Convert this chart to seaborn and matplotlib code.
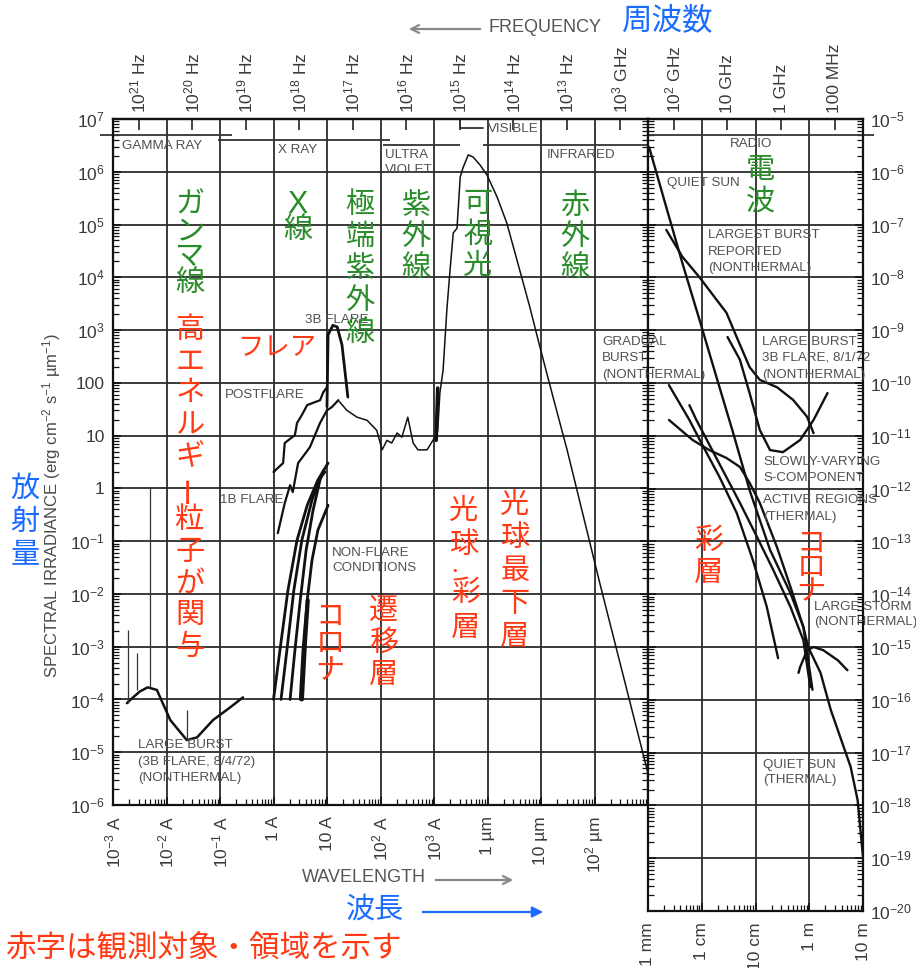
import numpy as np
import pandas as pd
import matplotlib
matplotlib.use("Agg")
import matplotlib.pyplot as plt
import seaborn as sns
from matplotlib.ticker import LogLocator, NullLocator

# ---------------- data (log10 values) ----------------
# Left panel: wavelength in Angstrom, irradiance in erg cm^-2 s^-1 um^-1
qs_lwl = [1.21, 1.37, 1.56, 1.75, 1.93, 2.03, 2.12, 2.21, 2.31, 2.40, 2.51, 2.61, 2.70,
          2.87, 2.98, 3.06, 3.07, 3.11, 3.17, 3.24, 3.30, 3.36, 3.43, 3.49, 3.54, 3.64,
          3.73, 3.86, 3.99, 4.18, 4.36, 4.55, 4.79, 4.98, 5.22, 5.49, 6.10, 7.00]
qs_lirr = [1.67, 1.48, 1.35, 1.29, 1.10, 0.73, 0.91, 0.86, 1.05, 0.97, 1.35, 0.86, 0.73,
           0.73, 0.91, 1.05, 1.10, 1.81, 2.24, 3.38, 4.14, 4.84, 4.93, 5.90, 6.07, 6.32,
           6.28, 6.13, 5.94, 5.52, 5.03, 4.33, 3.44, 2.68, 1.75, 0.72, -1.80, -5.40]

blob_lwl = [3.04, 3.07]
blob_lirr = [0.91, 1.90]

fl3b_lwl = [1.00, 1.02, 1.11, 1.19, 1.28, 1.39]
fl3b_lirr = [1.55, 2.91, 3.09, 3.06, 2.72, 1.73]

post_lwl = [0.00, 0.18, 0.21, 0.40, 0.44, 0.53, 0.63, 0.87, 0.93, 1.00]
post_lirr = [0.31, 0.48, 0.86, 1.01, 1.24, 1.39, 1.58, 1.67, 1.82, 1.92]

fl1b_lwl = [0.08, 0.21, 0.31, 0.36, 0.46, 0.68, 0.87, 1.00, 1.09, 1.21]
fl1b_lirr = [-0.85, -0.28, 0.06, -0.07, 0.48, 0.78, 1.24, 1.48, 1.54, 1.67]

nf1_lwl = [0.00, 0.12, 0.27, 0.44, 0.63, 0.83, 1.02]
nf1_lirr = [-4.00, -3.07, -1.93, -0.98, -0.32, 0.16, 0.48]
nf2_lwl = [0.14, 0.25, 0.38, 0.53, 0.72, 0.87, 0.96]
nf2_lirr = [-4.00, -3.07, -1.93, -0.98, -0.22, 0.19, 0.31]
nf3_lwl = [0.31, 0.40, 0.50, 0.61, 0.74, 0.87, 0.94]
nf3_lirr = [-4.00, -3.07, -2.12, -1.17, -0.41, 0.16, 0.35]
nf4_lwl = [0.50, 0.55, 0.63, 0.72, 0.83, 1.02]
nf4_lirr = [-4.00, -3.07, -2.12, -1.36, -0.79, -0.32]
nf5_lwl = [0.53, 0.59, 0.64]
nf5_lirr = [-4.00, -2.88, -2.12]

gam_lwl = [-2.74, -2.68, -2.50, -2.35, -2.18, -1.93, -1.62, -1.43, -1.13, -0.81, -0.57]
gam_lirr = [-4.07, -4.01, -3.85, -3.77, -3.82, -4.39, -4.77, -4.72, -4.39, -4.15, -3.96]

gline_lwl = [-2.72, -2.55, -2.31, -1.62]
gline_top = [-2.69, -3.12, 0.02, -4.20]
gline_bot = [-4.07, -3.82, -3.77, -4.77]

# Right panel: wavelength in metres, irradiance (log10)
qsr_lwl = [-2.98, -2.66, -2.36, -2.04, -1.72, -1.42, -1.11, -0.73, -0.35, -0.11, -0.02,
           0.21, 0.40, 0.77, 0.90, 1.00]
qsr_lirr = [-5.53, -6.67, -7.73, -8.81, -9.91, -10.93, -12.03, -13.16, -13.98, -14.62,
            -15.00, -15.49, -16.19, -17.27, -17.90, -18.98]

lb_lwl = [-2.66, -2.36, -2.04, -1.72, -1.54, -1.35, -1.11, -0.92, -0.60, -0.30, -0.04, 0.08]
lb_lirr = [-7.10, -7.61, -8.00, -8.43, -8.67, -9.13, -9.70, -9.94, -10.08, -10.32, -10.64, -10.95]

b3_lwl = [-1.52, -1.29, -1.11, -0.92, -0.73, -0.49, -0.17, 0.08, 0.34]
b3_lirr = [-9.13, -9.56, -10.19, -10.89, -11.27, -11.31, -11.08, -10.70, -10.19]

gb_lwl = [-2.61, -2.23, -1.99, -1.67, -1.35, -1.05, -0.79, -0.58]
gb_lirr = [-10.04, -10.70, -11.17, -11.78, -12.46, -13.35, -14.24, -15.21]

sc_lwl = [-2.61, -2.17, -1.86, -1.54, -1.29, -1.11, -0.92, -0.60, -0.35, -0.11, 0.06]
sc_lirr = [-10.70, -11.08, -11.27, -11.42, -11.59, -11.89, -12.27, -13.11, -13.86, -14.62, -15.81]

ar_lwl = [-2.23, -2.10, -1.61, -1.29, -0.97, -0.67, -0.35, -0.11, 0.02]
ar_lirr = [-10.42, -10.70, -11.65, -12.27, -12.92, -13.54, -14.24, -14.87, -15.76]

ls_lwl = [-0.20, -0.17, -0.04, 0.08, 0.26, 0.53, 0.71]
ls_lirr = [-15.49, -15.38, -15.06, -15.00, -15.06, -15.25, -15.44]

# spectral band bars at the top (log10 Angstrom, log10 irradiance)
band_lo = [-3.24, -1.04, 2.05, 3.92]
band_hi = [-0.78, 2.18, 3.49, 7.00]
band_lev = [6.70, 6.60, 6.51, 6.51]
vis_lwl = [3.49, 3.49, 3.92]
vis_lev = [7.00, 6.83, 6.83]
radio_lwl = [-3.00, 1.20]
radio_lev = -5.30

# tick labels
left_freqs = [1e21, 1e20, 1e19, 1e18, 1e17, 1e16, 1e15, 1e14, 1e13, 1e12]
left_freq_labels = ["10$^{21}$ Hz", "10$^{20}$ Hz", "10$^{19}$ Hz", "10$^{18}$ Hz",
                    "10$^{17}$ Hz", "10$^{16}$ Hz", "10$^{15}$ Hz", "10$^{14}$ Hz",
                    "10$^{13}$ Hz", "10$^{3}$ GHz"]
right_freqs = [1e11, 1e10, 1e9, 1e8]
right_freq_labels = ["10$^{2}$ GHz", "10 GHz", "1 GHz", "100 MHz"]
left_wl_labels = ["10$^{-3}$ A", "10$^{-2}$ A", "10$^{-1}$ A", "1 A", "10 A", "10$^{2}$ A",
                  "10$^{3}$ A", "1 µm", "10 µm", "10$^{2}$ µm", ""]
right_wl_labels = ["1 mm", "1 cm", "10 cm", "1 m", "10 m"]
left_y_labels = ["10$^{-6}$", "10$^{-5}$", "10$^{-4}$", "10$^{-3}$", "10$^{-2}$", "10$^{-1}$",
                 "1", "10", "100", "10$^{3}$", "10$^{4}$", "10$^{5}$", "10$^{6}$", "10$^{7}$"]
right_y_labels = ["10$^{-%d}$" % k for k in range(20, 4, -1)]

C = 2.998e8

# ---------------- style ----------------
sns.set_theme(style="white")
plt.rcParams["font.family"] = ["Liberation Sans", "Noto Sans CJK JP", "DejaVu Sans"]
plt.rcParams["mathtext.fontset"] = "custom"
plt.rcParams["mathtext.rm"] = "Liberation Sans"
plt.rcParams["mathtext.it"] = "Liberation Sans:italic"
plt.rcParams["mathtext.bf"] = "Liberation Sans:bold"

W, H = 916, 968
fig = plt.figure(figsize=(W / 100, H / 100), dpi=100)
fig.patch.set_facecolor("white")


def P(px, py):
    return (px / W, 1 - py / H)


ax1 = fig.add_axes([113 / W, 1 - 805 / H, 535 / W, 686 / H])
ax2 = fig.add_axes([648 / W, 1 - 911 / H, 215 / W, 792 / H])

for ax in (ax1, ax2):
    ax.set_xscale("log")
    ax.set_yscale("log")

INK = "#111111"


def curve(ax, lwl, lirr, lw):
    d = pd.DataFrame({"wl": 10.0 ** np.asarray(lwl), "irr": 10.0 ** np.asarray(lirr)})
    sns.lineplot(data=d, x="wl", y="irr", ax=ax, color=INK, linewidth=lw,
                 sort=False, estimator=None)


# left panel curves
curve(ax1, qs_lwl, qs_lirr, 1.1)
curve(ax1, blob_lwl, blob_lirr, 2.6)
curve(ax1, fl3b_lwl, fl3b_lirr, 2.0)
curve(ax1, post_lwl, post_lirr, 1.6)
curve(ax1, fl1b_lwl, fl1b_lirr, 1.6)
for lw_, li_ in [(nf1_lwl, nf1_lirr), (nf2_lwl, nf2_lirr), (nf3_lwl, nf3_lirr),
                 (nf4_lwl, nf4_lirr)]:
    curve(ax1, lw_, li_, 2.0)
curve(ax1, nf5_lwl, nf5_lirr, 3.0)
curve(ax1, gam_lwl, gam_lirr, 1.8)
ax1.vlines(10.0 ** np.asarray(gline_lwl), 10.0 ** np.asarray(gline_bot),
           10.0 ** np.asarray(gline_top), color="#333", linewidth=0.9)

# right panel curves
for lw_, li_ in [(qsr_lwl, qsr_lirr), (lb_lwl, lb_lirr), (b3_lwl, b3_lirr),
                 (gb_lwl, gb_lirr), (sc_lwl, sc_lirr), (ar_lwl, ar_lirr), (ls_lwl, ls_lirr)]:
    curve(ax2, lw_, li_, 1.7)

# band bars
ax1.hlines(10.0 ** np.asarray(band_lev), 10.0 ** np.asarray(band_lo), 10.0 ** np.asarray(band_hi),
           color="#333", linewidth=1.3, clip_on=False)
ax1.plot(10.0 ** np.asarray(vis_lwl), 10.0 ** np.asarray(vis_lev), color="#333", lw=1.3,
         clip_on=False)
ax2.hlines(10.0 ** radio_lev, 10.0 ** radio_lwl[0], 10.0 ** radio_lwl[1], color="#333",
           linewidth=1.3, clip_on=False)

ax1.set_xlim(1e-3, 1e7)
ax1.set_ylim(1e-6, 1e7)
ax2.set_xlim(1e-3, 1e1)
ax2.set_ylim(1e-20, 1e-5)

LBL = "#3a3a3a"
minor = dict(base=10, subs=np.arange(2, 10) * 1.0, numticks=200)
for ax in (ax1, ax2):
    ax.set_xlabel("")
    ax.set_ylabel("")
    ax.grid(True, which="major", color="#2b2b2b", linewidth=1.3)
    ax.grid(False, which="minor")
    ax.xaxis.set_minor_locator(LogLocator(**minor))
    ax.yaxis.set_minor_locator(LogLocator(**minor))
    ax.tick_params(which="both", direction="in", top=False, bottom=True, left=True, right=True,
                   color=INK)
    ax.tick_params(which="major", length=6, width=1.2, labelsize=12.5, labelcolor=LBL, pad=7)
    ax.tick_params(which="minor", length=4, width=0.9)
    for s in ax.spines.values():
        s.set_visible(True)
        s.set_color(INK)
        s.set_linewidth(1.6)

ax1.set_xticks(10.0 ** np.arange(-3, 8), labels=left_wl_labels)
ax1.set_yticks(10.0 ** np.arange(-6, 8), labels=left_y_labels)
ax1.xaxis.set_minor_locator(LogLocator(**minor))
ax1.yaxis.set_minor_locator(LogLocator(**minor))
ax1.tick_params(axis="x", labelrotation=90, pad=8)
ax1.tick_params(axis="y", labelleft=True, labelright=False, pad=6)

ax2.set_xticks(10.0 ** np.arange(-3, 2), labels=right_wl_labels)
ax2.set_yticks(10.0 ** np.arange(-20, -4), labels=right_y_labels)
ax2.xaxis.set_minor_locator(LogLocator(**minor))
ax2.yaxis.set_minor_locator(LogLocator(**minor))
ax2.tick_params(axis="x", labelrotation=90, pad=8)
ax2.tick_params(axis="y", labelleft=False, labelright=True, pad=5)

# frequency axis on top
for ax, freqs, labels, conv in [(ax1, left_freqs, left_freq_labels, 1e10),
                                (ax2, right_freqs, right_freq_labels, 1.0)]:
    sec = ax.secondary_xaxis("top")
    sec.set_xticks([C / f * conv for f in freqs], labels=labels)
    sec.xaxis.set_minor_locator(NullLocator())
    sec.tick_params(axis="x", which="major", direction="in", length=8, width=1.1,
                    labelsize=12.5, labelcolor=LBL, pad=4, labelrotation=90, color=INK)
    sec.spines["top"].set_linewidth(1.6)
    sec.spines["top"].set_color(INK)

# ---------------- annotations ----------------
GRAY = "#505050"
gray_labels = [
    (122, 146, "GAMMA RAY"), (278, 150, "X RAY"), (385, 155, "ULTRA"), (385, 170, "VIOLET"),
    (488, 129, "VISIBLE"), (547, 155, "INFRARED"), (730, 144, "RADIO"), (667, 183, "QUIET SUN"),
    (708, 235, "LARGEST BURST"), (708, 252, "REPORTED"), (708, 268, "(NONTHERMAL)"),
    (602, 342, "GRADUAL"), (602, 358, "BURST"), (602, 375, "(NONTHERMAL)"),
    (762, 342, "LARGE BURST"), (762, 358, "3B FLARE, 8/1/72"), (762, 375, "(NONTHERMAL)"),
    (763, 462, "SLOWLY-VARYING"), (763, 478, "S-COMPONENT"),
    (763, 500, "ACTIVE REGIONS"), (763, 517, "(THERMAL)"),
    (814, 607, "LARGE STORM"), (814, 622, "(NONTHERMAL)"),
    (763, 765, "QUIET SUN"), (763, 780, "(THERMAL)"),
    (305, 320, "3B FLARE"), (225, 395, "POSTFLARE"), (220, 500, "1B FLARE"),
    (332, 553, "NON-FLARE"), (332, 568, "CONDITIONS"),
    (138, 745, "LARGE BURST"), (138, 762, "(3B FLARE, 8/4/72)"), (138, 778, "(NONTHERMAL)"),
]
for px, py, s in gray_labels:
    fig.text(*P(px, py), s, fontsize=9.6, color=GRAY, ha="left", va="center",
             family="Liberation Sans")

fig.text(*P(52, 505), "SPECTRAL IRRADIANCE (erg cm$^{-2}$ s$^{-1}$ µm$^{-1}$)", rotation=90,
         ha="center", va="center", fontsize=12, color="#4a4a4a")

fig.text(*P(545, 28), "FREQUENCY", fontsize=13, color="#555", ha="center", va="center")
ax1.annotate("", xy=P(406, 29), xytext=P(483, 29), xycoords="figure fraction",
             textcoords="figure fraction", annotation_clip=False,
             arrowprops=dict(arrowstyle="->", color="#888", lw=1.6, mutation_scale=14))
fig.text(*P(364, 878), "WAVELENGTH", fontsize=13, color="#555", ha="center", va="center")
ax1.annotate("", xy=P(516, 880), xytext=P(433, 880), xycoords="figure fraction",
             textcoords="figure fraction", annotation_clip=False,
             arrowprops=dict(arrowstyle="->", color="#888", lw=1.6, mutation_scale=14))

JP = "Noto Sans CJK JP"
GREEN = "#2a8c2a"
RED = "#ff3a14"
BLUE = "#1a6bff"


def vtext(px, py0, pitch, s, color, size=21):
    for i, ch in enumerate(s):
        fig.text(*P(px, py0 + i * pitch), ch, family=JP, fontsize=size, color=color,
                 ha="center", va="center", rotation=90 if ch == "ー" else 0)


vtext(190, 205, 26, "ガンマ線", GREEN)
fig.text(*P(298, 205), "X", family="Liberation Sans", fontsize=22, color=GREEN,
         ha="center", va="center")
vtext(298, 230, 24, "線", GREEN)
vtext(360, 205, 32, "極端紫外線", GREEN)
vtext(416, 206, 31, "紫外線", GREEN)
vtext(478, 204, 31, "可視光", GREEN)
vtext(575, 206, 31, "赤外線", GREEN)
vtext(760, 170, 32, "電波", GREEN)

vtext(190, 330, 31.7, "高エネルギー粒子が関与", RED)
fig.text(*P(277, 348), "フレア", family=JP, fontsize=19, color=RED, ha="center", va="center")
vtext(330, 617, 27, "コロナ", RED)
vtext(384, 611, 32, "遷移層", RED)
vtext(464, 511, 34, "光球", RED)
fig.text(*P(455, 571), "•", family="DejaVu Sans", fontsize=8, color=RED, ha="center",
         va="center")
vtext(466, 593, 35, "彩層", RED)
vtext(515, 505, 33, "光球最下層", RED)
vtext(709, 541, 32, "彩層", RED)
vtext(811, 544, 24, "コロナ", RED)

fig.text(*P(668, 21), "周波数", family=JP, fontsize=22, color=BLUE, ha="center", va="center")
vtext(25, 489, 33, "放射量", BLUE)
fig.text(*P(375, 910), "波長", family=JP, fontsize=21, color=BLUE, ha="center", va="center")
ax1.annotate("", xy=P(546, 912), xytext=P(420, 912), xycoords="figure fraction",
             textcoords="figure fraction", annotation_clip=False,
             arrowprops=dict(arrowstyle="-|>", color=BLUE, lw=1.6, mutation_scale=16))

fig.text(*P(5, 948), "赤字は観測対象・領域を示す", family=JP, fontsize=22, color=RED,
         ha="left", va="center")

fig.savefig("out.png", dpi=100, facecolor="white")
